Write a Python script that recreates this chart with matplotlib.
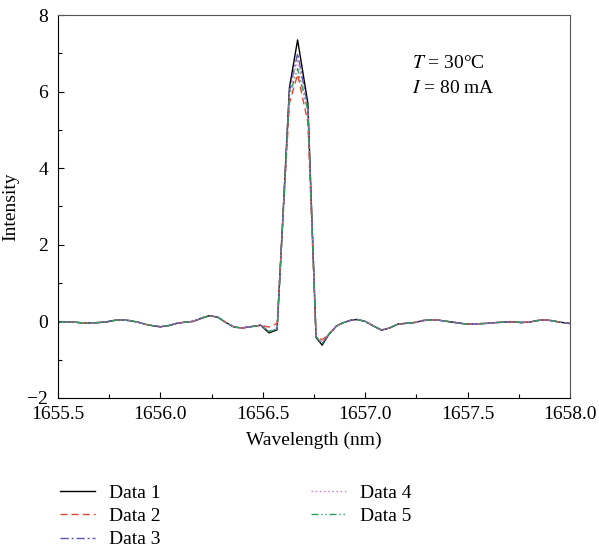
import matplotlib
matplotlib.use('Agg')
import matplotlib.pyplot as plt
import matplotlib.ticker as ticker

plt.rcParams.update({
    'font.family': 'Liberation Serif',
    'mathtext.fontset': 'stix',
    'font.size': 14,
})

# wavelength (nm)
wavelength = [1655.50, 1655.54, 1655.58, 1655.62, 1655.66, 1655.70, 1655.74, 1655.78,
              1655.81, 1655.85, 1655.89, 1655.93, 1655.97, 1656.00, 1656.04, 1656.08,
              1656.12, 1656.16, 1656.20, 1656.24, 1656.28, 1656.32, 1656.36, 1656.40,
              1656.44, 1656.49, 1656.53, 1656.57, 1656.63, 1656.67, 1656.72, 1656.76,
              1656.79, 1656.82, 1656.86, 1656.89, 1656.93, 1656.96, 1657.00, 1657.04,
              1657.08, 1657.12, 1657.16, 1657.20, 1657.24, 1657.28, 1657.32, 1657.36,
              1657.40, 1657.44, 1657.48, 1657.52, 1657.56, 1657.60, 1657.64, 1657.68,
              1657.72, 1657.76, 1657.80, 1657.84, 1657.87, 1657.91, 1657.95, 1657.99,
              1658.02]

data1 = [-0.03, -0.01, -0.02, -0.04, -0.04, -0.03, -0.01, 0.03,
         0.04, 0.02, -0.02, -0.08, -0.12, -0.14, -0.11, -0.05,
         -0.02, 0.00, 0.08, 0.15, 0.11, -0.03, -0.15, -0.17,
         -0.14, -0.10, -0.30, -0.22, 6.10, 7.35, 5.70, -0.42,
         -0.62, -0.36, -0.12, -0.04, 0.03, 0.05, 0.00, -0.12,
         -0.23, -0.17, -0.07, -0.05, -0.03, 0.02, 0.04, 0.03,
         0.00, -0.03, -0.06, -0.07, -0.06, -0.05, -0.03, -0.02,
         -0.01, -0.03, -0.02, 0.02, 0.04, 0.02, -0.02, -0.05,
         -0.06]

data2 = [-0.03, -0.01, -0.02, -0.04, -0.04, -0.03, -0.01, 0.03,
         0.04, 0.02, -0.02, -0.08, -0.12, -0.14, -0.11, -0.05,
         -0.02, 0.00, 0.09, 0.15, 0.11, -0.03, -0.15, -0.17,
         -0.14, -0.10, -0.15, -0.05, 5.70, 6.45, 5.20, -0.40,
         -0.48, -0.34, -0.12, -0.04, 0.03, 0.05, 0.00, -0.12,
         -0.22, -0.17, -0.07, -0.05, -0.03, 0.02, 0.04, 0.03,
         0.00, -0.03, -0.06, -0.07, -0.06, -0.05, -0.03, -0.02,
         -0.01, -0.03, -0.02, 0.02, 0.04, 0.02, -0.02, -0.05,
         -0.06]

data3 = [-0.03, -0.01, -0.02, -0.04, -0.04, -0.03, -0.01, 0.03,
         0.04, 0.02, -0.02, -0.08, -0.12, -0.14, -0.11, -0.05,
         -0.02, 0.00, 0.08, 0.15, 0.11, -0.03, -0.15, -0.17,
         -0.14, -0.10, -0.26, -0.20, 6.00, 7.00, 5.60, -0.40,
         -0.58, -0.35, -0.12, -0.04, 0.03, 0.05, 0.00, -0.12,
         -0.23, -0.17, -0.07, -0.05, -0.03, 0.02, 0.04, 0.03,
         0.00, -0.03, -0.06, -0.07, -0.06, -0.05, -0.03, -0.02,
         -0.01, -0.03, -0.02, 0.02, 0.04, 0.02, -0.02, -0.05,
         -0.06]

data4 = [-0.03, -0.01, -0.02, -0.04, -0.04, -0.03, -0.01, 0.03,
         0.04, 0.02, -0.02, -0.08, -0.12, -0.14, -0.11, -0.05,
         -0.02, 0.00, 0.08, 0.15, 0.11, -0.03, -0.15, -0.17,
         -0.14, -0.10, -0.26, -0.20, 6.00, 6.85, 5.50, -0.40,
         -0.55, -0.35, -0.12, -0.04, 0.03, 0.05, 0.00, -0.12,
         -0.23, -0.17, -0.07, -0.05, -0.03, 0.02, 0.04, 0.03,
         0.00, -0.03, -0.06, -0.07, -0.06, -0.05, -0.03, -0.02,
         -0.01, -0.03, -0.02, 0.02, 0.04, 0.02, -0.02, -0.05,
         -0.06]

data5 = [-0.03, -0.01, -0.02, -0.04, -0.04, -0.03, -0.01, 0.03,
         0.04, 0.02, -0.02, -0.08, -0.12, -0.14, -0.11, -0.05,
         -0.02, 0.00, 0.08, 0.15, 0.11, -0.03, -0.15, -0.17,
         -0.14, -0.10, -0.27, -0.20, 5.90, 6.60, 5.50, -0.40,
         -0.58, -0.35, -0.12, -0.04, 0.03, 0.05, 0.00, -0.12,
         -0.23, -0.17, -0.07, -0.05, -0.03, 0.02, 0.04, 0.03,
         0.00, -0.03, -0.06, -0.07, -0.06, -0.05, -0.03, -0.02,
         -0.01, -0.03, -0.02, 0.02, 0.04, 0.02, -0.02, -0.05,
         -0.06]

labels = ['Data 1', 'Data 2', 'Data 3', 'Data 4', 'Data 5']

fig = plt.figure(figsize=(5.99, 5.5), dpi=100)
ax = fig.add_axes([0.0968, 0.2764, 0.8548, 0.6963])

ax.plot(wavelength, data1, color='black', lw=1.0, ls='-', label=labels[0])
ax.plot(wavelength, data2, color='#e8452e', lw=1.0, ls=(0, (5, 3)), label=labels[1])
ax.plot(wavelength, data3, color='#5a56b8', lw=1.0, ls=(0, (6, 2, 1.5, 2)), label=labels[2])
ax.plot(wavelength, data4, color='#d873c8', lw=1.0, ls=(0, (1, 2)), label=labels[3])
ax.plot(wavelength, data5, color='#2e9e5c', lw=1.0, ls=(0, (5, 2, 1, 2, 1, 2)), label=labels[4])

ax.set_xlim(1655.5, 1658.0)
ax.set_ylim(-2, 8)
ax.set_xlabel('Wavelength (nm)', labelpad=6)
ax.set_ylabel('Intensity', labelpad=6)

ax.xaxis.set_major_locator(ticker.MultipleLocator(0.5))
ax.xaxis.set_minor_locator(ticker.MultipleLocator(0.25))
ax.xaxis.set_major_formatter(ticker.FormatStrFormatter('%.1f'))
ax.yaxis.set_major_locator(ticker.MultipleLocator(2))
ax.yaxis.set_minor_locator(ticker.MultipleLocator(1))
ax.tick_params(which='both', direction='in', top=False, right=False)
ax.tick_params(which='major', length=4.5, width=0.8)
ax.tick_params(axis='y', which='major', pad=7)
ax.tick_params(axis='x', which='major', pad=6)
ax.tick_params(which='minor', length=3, width=0.8)
for side in ['top', 'right']:
    ax.spines[side].set_color('#555555')

ax.text(1657.23, 6.74, r'$T$ = 30°C', va='center', ha='left')
ax.text(1657.23, 6.09, r'$I$ = 80 mA', va='center', ha='left')

fig.legend(loc='upper left', bbox_to_anchor=(0.088, 0.133), ncol=2, frameon=False,
           handlelength=1.8, handletextpad=0.7, columnspacing=7.75,
           labelspacing=0.28, borderaxespad=0)

plt.savefig('out.png', dpi=100)
